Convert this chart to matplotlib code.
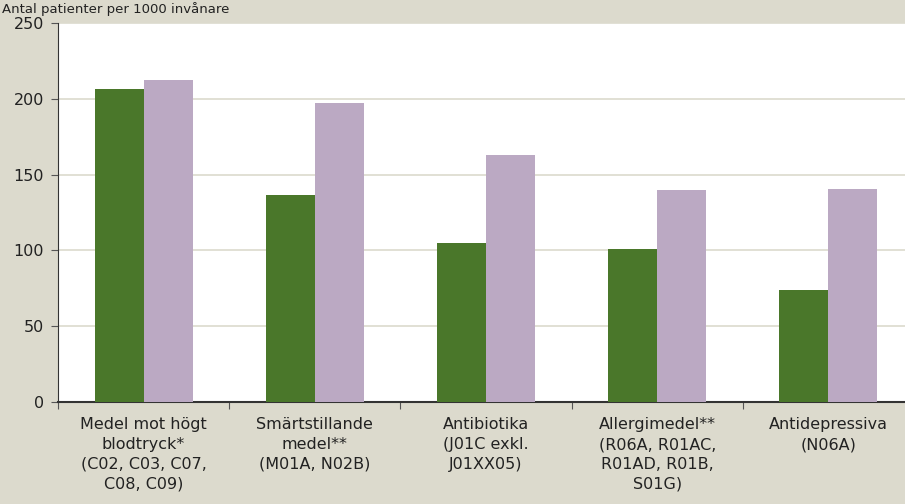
import matplotlib
matplotlib.use("Agg")
import matplotlib.pyplot as plt
import numpy as np

categories = [
    "Medel mot högt\nblodtryck*\n(C02, C03, C07,\nC08, C09)",
    "Smärtstillande\nmedel**\n(M01A, N02B)",
    "Antibiotika\n(J01C exkl.\nJ01XX05)",
    "Allergimedel**\n(R06A, R01AC,\nR01AD, R01B,\nS01G)",
    "Antidepressiva\n(N06A)",
]
series_green = [206.5, 136.5, 105, 101, 74]
series_purple = [212.5, 197.5, 163, 140, 140.5]
yticks = [0, 50, 100, 150, 200, 250]

BG = "#dcdacd"
GREEN = "#4a772a"
PURPLE = "#bba9c3"

plt.rcParams["font.family"] = ["DejaVu Sans"]

fig = plt.figure(figsize=(9.05, 5.04), dpi=100, facecolor=BG)
ax = fig.add_axes([58 / 905, 102 / 504, 856 / 905, 379 / 504])
ax.set_facecolor("white")

x = np.arange(len(categories))
w = 0.286
ax.bar(x - w / 2, series_green, width=w, color=GREEN, zorder=3)
ax.bar(x + w / 2, series_purple, width=w, color=PURPLE, zorder=3)

ax.set_xlim(-0.5, len(categories) - 0.5)
ax.set_ylim(0, 250)
ax.set_yticks(yticks)
ax.set_yticklabels([str(v) for v in yticks], fontsize=11.5, color="#222222")
ax.yaxis.grid(True, color="#dcdacd", linewidth=1.2, zorder=0)
ax.set_axisbelow(True)

# kategoriavgränsare som major ticks, etiketter som minor
ax.set_xticks(np.arange(len(categories) + 1) - 0.5)
ax.set_xticklabels([])
ax.set_xticks(x, minor=True)
ax.set_xticklabels(categories, minor=True, fontsize=11.5, color="#222222",
                   linespacing=1.4, va="top")
ax.tick_params(axis="x", which="minor", length=0, pad=11)
ax.tick_params(axis="x", which="major", length=5, color="#555555")
ax.tick_params(axis="y", length=5, color="#555555", pad=5)

for s in ["top", "right"]:
    ax.spines[s].set_visible(False)
ax.spines["left"].set_color("#333333")
ax.spines["bottom"].set_color("#333333")
ax.spines["bottom"].set_linewidth(1.5)

fig.text(2 / 905, 1 - 12.5 / 504, "Antal patienter per 1000 invånare", fontsize=9.5,
         color="#222222", va="baseline", ha="left")

fig.savefig("out.png", dpi=100, facecolor=BG)
